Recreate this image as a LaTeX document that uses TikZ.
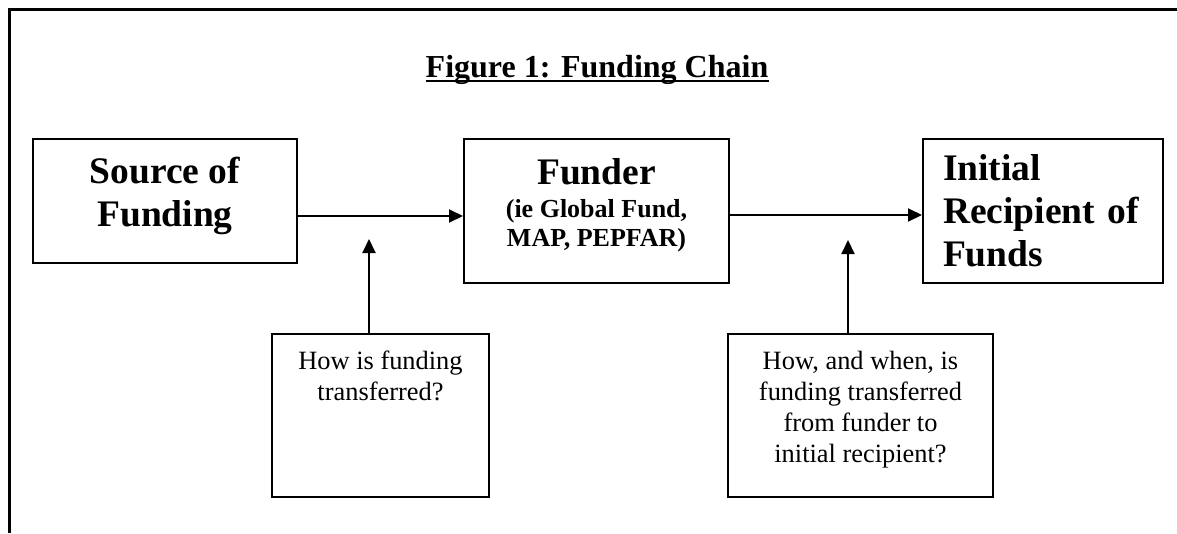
\documentclass[tikz,border=0pt]{standalone}
\usepackage{fontspec}
\setmainfont{Liberation Serif}
\usetikzlibrary{arrows.meta}
\begin{document}
\begin{tikzpicture}[x=1pt,y=-1pt,
  box/.style={draw, line width=2pt, inner sep=0pt},
  big/.style={font=\fontsize{37.5}{43}\selectfont\bfseries},
  small/.style={font=\fontsize{26.4}{31}\selectfont},
  conn/.style={line width=2pt, -{Triangle[length=14pt,width=13pt]}},
  frame/.style={line width=2.5pt}
]
\useasboundingbox (0,0) rectangle (1177,533);
% outer frame (top and left)
\coordinate (fbl) at (9.5,533);
\coordinate (ftl) at (9.5,9.5);
\coordinate (ftr) at (1177,9.5);
\draw[frame] (fbl) -- (ftl) -- (ftr);
% title
\node[anchor=base, font=\fontsize{32}{38}\selectfont\bfseries, inner sep=0pt] (title) at (597,77) {Figure 1: Funding Chain};
\draw[line width=2pt] ([yshift=-4pt]title.base west) -- ([yshift=-4pt]title.base east);
% main boxes
\node[box, big, align=center, minimum width=264pt, minimum height=124pt] (src) at (165,201)
  {Source of\\Funding\rule[-19pt]{0pt}{0pt}};
\node[box, big, align=center, minimum width=265pt, minimum height=144pt] (fun) at (596.5,211)
  {Funder\\[-10pt]\fontsize{26}{29}\selectfont (ie Global Fund,\\[-14pt]\fontsize{26}{29}\selectfont MAP, PEPFAR)\rule[-17pt]{0pt}{0pt}};
\node[box, big, align=left, text width=200pt, minimum width=240pt, minimum height=144pt] (ini) at (1043,211)
  {Initial\\Recipient of\\Funds};
% question boxes
\node[box, small, align=center, minimum width=217pt, minimum height=163pt] (q1) at (380.5,415.5)
  {How is funding\\transferred?\rule[-80pt]{0pt}{0pt}};
\node[box, small, align=center, minimum width=265pt, minimum height=163pt] (q2) at (860.5,415.5)
  {How, and when, is\\funding transferred\\from funder to\\initial recipient?\rule[-18pt]{0pt}{0pt}};
% connectors
\coordinate (a1) at (0,216);
\coordinate (a2) at (0,215);
\coordinate (u1) at (369,239);
\coordinate (u2) at (848,240);
\draw[conn] (src.east |- a1) -- (fun.west |- a1);
\draw[conn] (fun.east |- a2) -- (ini.west |- a2);
\draw[conn] (u1 |- q1.north) -- (u1);
\draw[conn] (u2 |- q2.north) -- (u2);
\end{tikzpicture}
\end{document}
